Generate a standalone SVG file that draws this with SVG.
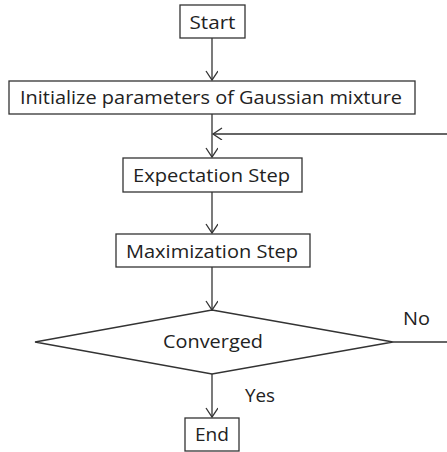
<svg xmlns="http://www.w3.org/2000/svg" width="447" height="452" viewBox="0 0 447 452">
  <style>
    .box { fill: #ffffff; stroke: #333333; stroke-width: 1.3; }
    .line { fill: none; stroke: #333333; stroke-width: 1.3; }
    .label { font-family: "Open Sans", "Liberation Sans", sans-serif; font-size: 19px; fill: #222222; }
  </style>
  <defs>
    <marker id="open-arrow" markerWidth="14" markerHeight="14" refX="10" refY="6" orient="auto" markerUnits="userSpaceOnUse">
      <path d="M1,0 L10,6 L1,12" fill="none" stroke="#333333" stroke-width="1.3"/>
    </marker>
  </defs>
  <rect width="447" height="452" fill="#ffffff"/>

  <g id="connectors">
    <line class="line" x1="212" y1="38" x2="212" y2="80" marker-end="url(#open-arrow)"/>
    <line class="line" x1="212" y1="114" x2="212" y2="157" marker-end="url(#open-arrow)"/>
    <line class="line" x1="447" y1="134" x2="213" y2="134" marker-end="url(#open-arrow)"/>
    <line class="line" x1="212" y1="192" x2="212" y2="233" marker-end="url(#open-arrow)"/>
    <line class="line" x1="212" y1="267" x2="212" y2="310" marker-end="url(#open-arrow)"/>
    <line class="line" x1="393" y1="342" x2="447" y2="342"/>
    <line class="line" x1="212" y1="374" x2="212" y2="417" marker-end="url(#open-arrow)"/>
    <text class="label" x="403" y="325" textLength="27" lengthAdjust="spacingAndGlyphs">No</text>
    <text class="label" x="245" y="402" textLength="30" lengthAdjust="spacingAndGlyphs">Yes</text>
  </g>

  <g id="start">
    <rect class="box" x="180" y="5" width="65" height="33"/>
    <text class="label" x="212.5" y="29" text-anchor="middle" textLength="46" lengthAdjust="spacingAndGlyphs">Start</text>
  </g>

  <g id="initialize">
    <rect class="box" x="9" y="81" width="406" height="33"/>
    <text class="label" x="211" y="104" text-anchor="middle" textLength="382" lengthAdjust="spacingAndGlyphs">Initialize parameters of Gaussian mixture</text>
  </g>

  <g id="expectation">
    <rect class="box" x="123" y="158" width="179" height="34"/>
    <text class="label" x="211.5" y="182" text-anchor="middle" textLength="157" lengthAdjust="spacingAndGlyphs">Expectation Step</text>
  </g>

  <g id="maximization">
    <rect class="box" x="116" y="234" width="194" height="33"/>
    <text class="label" x="212" y="258" text-anchor="middle" textLength="172" lengthAdjust="spacingAndGlyphs">Maximization Step</text>
  </g>

  <g id="converged">
    <polygon class="box" points="212,310 393,342 212,374 35,342"/>
    <text class="label" x="213" y="348" text-anchor="middle" textLength="100" lengthAdjust="spacingAndGlyphs">Converged</text>
  </g>

  <g id="end">
    <rect class="box" x="185" y="418" width="54" height="33"/>
    <text class="label" x="212" y="441" text-anchor="middle" textLength="34" lengthAdjust="spacingAndGlyphs">End</text>
  </g>
</svg>
